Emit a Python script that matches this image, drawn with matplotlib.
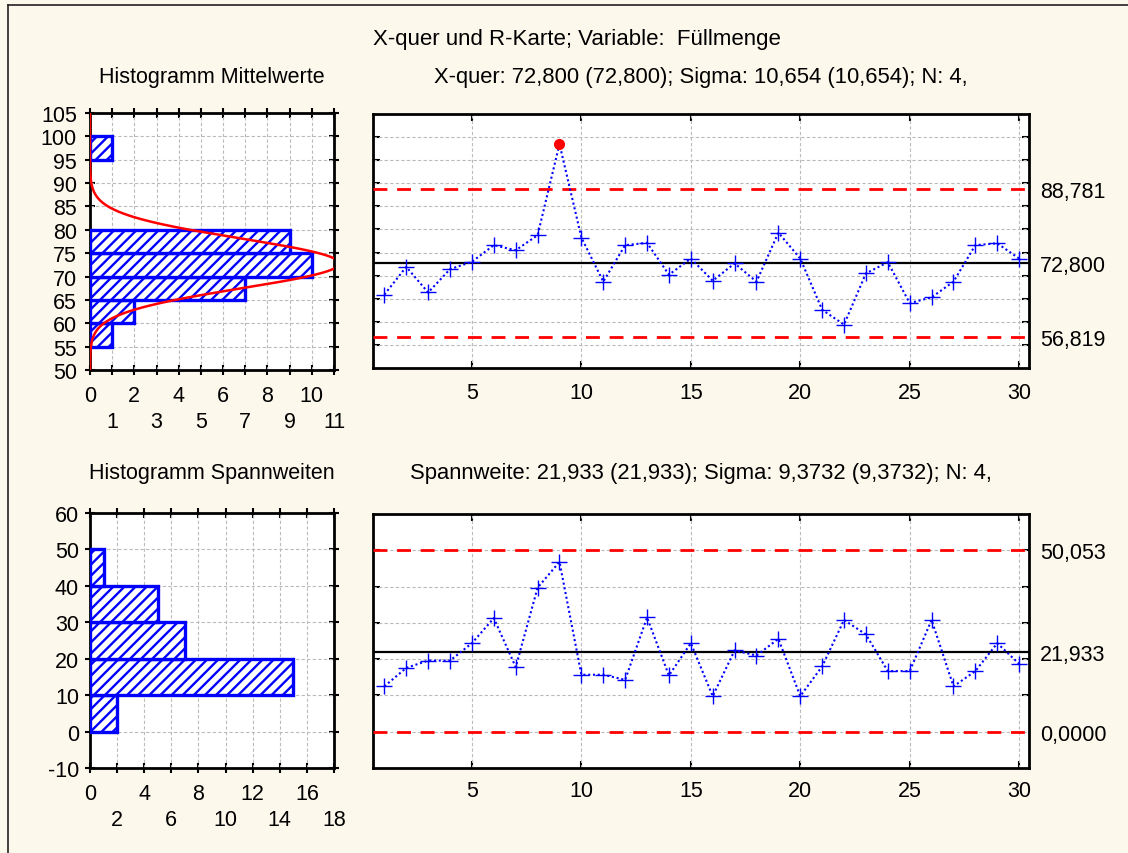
import numpy as np
import matplotlib
matplotlib.use('Agg')
import matplotlib.pyplot as plt
from matplotlib.lines import Line2D

plt.rcParams['font.family'] = ['Liberation Sans', 'DejaVu Sans']
plt.rcParams['hatch.linewidth'] = 1.7

# ---------------- data ----------------
samples = list(range(1, 31))
xbar = [65.9, 71.9, 66.35, 71.4, 73.0, 76.6, 75.5, 78.75, 98.5, 78.25,
        68.7, 76.6, 77.1, 70.2, 73.7, 68.9, 72.65, 68.7, 79.3, 73.7,
        62.6, 59.4, 70.5, 72.9, 64.05, 65.3, 68.7, 76.6, 77.0, 73.7]
ranges = [12.5, 17.6, 19.6, 19.6, 24.4, 31.3, 17.8, 39.7, 46.8, 15.7,
          15.7, 14.3, 31.5, 15.5, 24.4, 9.8, 22.4, 21.0, 25.6, 9.8,
          18.0, 30.8, 26.8, 16.7, 16.7, 30.8, 12.5, 16.7, 24.4, 18.7]
out_of_control = [9]

xbar_limits = [88.781, 72.800, 56.819]
xbar_limit_labels = ['88,781', '72,800', '56,819']
r_limits = [50.053, 21.933, 0.0]
r_limit_labels = ['50,053', '21,933', '0,0000']

hist_m_edges = [55, 60, 65, 70, 75, 95]
hist_m_counts = [1, 2, 7, 10, 9, 1]
hist_r_edges = [0, 10, 20, 30, 40]
hist_r_counts = [2, 15, 7, 5, 1]

sigma_x = 10.654
n_sub = 4
bin_w_m = 5
bin_w_r = 10

title = 'X-quer und R-Karte; Variable:  Füllmenge'
sub_hist_m = 'Histogramm Mittelwerte'
sub_xbar = 'X-quer: 72,800 (72,800); Sigma: 10,654 (10,654); N: 4,'
sub_hist_r = 'Histogramm Spannweiten'
sub_r = 'Spannweite: 21,933 (21,933); Sigma: 9,3732 (9,3732); N: 4,'

# ---------------- style ----------------
BG = '#FDF8EC'
BLUE = '#0000FF'
RED = '#FF0000'
FS = 15.5
W, H = 1128, 854

fig = plt.figure(figsize=(W / 100, H / 100), dpi=100, facecolor=BG)


def rect(l, t, r, b):
    return [l / W, 1 - b / H, (r - l) / W, (b - t) / H]


ax_hm = fig.add_axes(rect(90, 114, 334, 371))
ax_x = fig.add_axes(rect(373, 115, 1029, 369))
ax_hr = fig.add_axes(rect(90, 514, 334, 769))
ax_r = fig.add_axes(rect(373, 515, 1029, 769))

for ax in (ax_hm, ax_x, ax_hr, ax_r):
    ax.set_facecolor('white')
    for s in ax.spines.values():
        s.set_linewidth(2)
        s.set_color('black')
    ax.set_axisbelow(True)

grid_kw = dict(color='#BBBBBB', linestyle=(0, (3, 2)), linewidth=0.8)


def histogram(ax, edges, counts, bw, xmax, ylim, ystep, xstep_grid, major_x, minor_x, ypad):
    ax.barh(edges, counts, height=bw, left=0, align='edge', facecolor='white',
            edgecolor=BLUE, hatch='///', linewidth=2.4, zorder=3)
    ax.set_xlim(0, xmax)
    ax.set_ylim(*ylim)
    yt = np.arange(ylim[0], ylim[1] + 0.1, ystep)
    ax.set_yticks(yt)
    ax.set_yticklabels([f'{int(v)}' for v in yt])
    ax.set_xticks(major_x)
    ax.set_xticklabels([str(v) for v in major_x])
    ax.set_xticks(minor_x, minor=True)
    ax.set_xticklabels([str(v) for v in minor_x], minor=True)
    for v in np.arange(xstep_grid, xmax, xstep_grid):
        ax.axvline(v, zorder=1, **grid_kw)
    for v in np.arange(ylim[0] + ystep, ylim[1], ystep):
        ax.axhline(v, zorder=1, **grid_kw)
    ax.tick_params(axis='y', which='major', direction='inout', length=7, width=1.5,
                   labelsize=FS, pad=ypad, right=True)
    ax.tick_params(axis='x', which='major', direction='inout', length=7, width=1.5,
                   labelsize=FS, pad=7, top=True)
    ax.tick_params(axis='x', which='minor', direction='inout', length=7, width=1.5,
                   labelsize=FS, pad=26, top=True)


histogram(ax_hm, hist_m_edges, hist_m_counts, bin_w_m, 11, (50, 105), 5, 1,
          [0, 2, 4, 6, 8, 10], [1, 3, 5, 7, 9, 11], 6)
histogram(ax_hr, hist_r_edges, hist_r_counts, bin_w_r, 18, (-10, 60), 10, 2,
          [0, 4, 8, 12, 16], [2, 6, 10, 14, 18], 4.5)

# normal curve over mean histogram
mu = xbar_limits[1]
s_m = sigma_x / np.sqrt(n_sub)
yy = np.linspace(50, 105, 400)
curve = len(xbar) * bin_w_m / (s_m * np.sqrt(2 * np.pi)) * np.exp(-0.5 * ((yy - mu) / s_m) ** 2)
ax_hm.plot(curve, yy, color=RED, linewidth=1.8, zorder=4, clip_on=True)


def control(ax, values, limits, labels, ylim, ystep, ooc, xpad):
    x = np.array(samples)
    v = np.array(values)
    ax.set_xlim(0.48, 30.45)
    ax.set_ylim(*ylim)
    for k in (0, 2):
        ax.axhline(limits[k], color=RED, linestyle=(0, (5, 3.5)), linewidth=2, zorder=3)
    ax.axhline(limits[1], color='black', linewidth=1.6, zorder=3)
    ax.plot(x, v, color=BLUE, linestyle=(0, (1, 1.3)), linewidth=1.5, zorder=4)
    mask = np.isin(x, ooc)
    ax.plot(x[~mask], v[~mask], linestyle='none', marker='+', color=BLUE,
            markersize=11, markeredgewidth=1.0, zorder=5)
    if mask.any():
        ax.plot(x[mask], v[mask], linestyle='none', marker='o', color=RED,
                markersize=7, zorder=6)
    ax.set_xticks([5, 10, 15, 20, 25, 30])
    ax.set_xticklabels(['5', '10', '15', '20', '25', '30'])
    grid_y = np.arange(ylim[0] + ystep, ylim[1], ystep)
    ax.set_yticks(grid_y, minor=True)
    ax.set_yticks(limits)
    ax.set_yticklabels(labels)
    for g in [5, 10, 15, 20, 25, 30]:
        ax.axvline(g, zorder=1, **grid_kw)
    for g in grid_y:
        ax.axhline(g, zorder=1, **grid_kw)
    ax.tick_params(axis='x', direction='in', length=5, width=1.5, labelsize=FS,
                   pad=xpad, top=True)
    ax.tick_params(axis='y', which='minor', direction='in', length=5, width=1.5,
                   left=True, right=True)
    ax.tick_params(axis='y', which='major', direction='in', length=0,
                   labelleft=False, labelright=True, left=False, right=True,
                   labelsize=FS, pad=8)


control(ax_x, xbar, xbar_limits, xbar_limit_labels, (50, 105), 5, out_of_control, 10)
control(ax_r, ranges, r_limits, r_limit_labels, (-10, 60), 10, [], 8.5)

# texts
fig.text(577 / W, 1 - 40 / H, title, ha='center', va='center', fontsize=FS + 0.5)
fig.text(212 / W, 1 - 77 / H, sub_hist_m, ha='center', va='center', fontsize=FS)
fig.text(701 / W, 1 - 77 / H, sub_xbar, ha='center', va='center', fontsize=FS + 0.3)
fig.text(212 / W, 1 - 474 / H, sub_hist_r, ha='center', va='center', fontsize=FS)
fig.text(701 / W, 1 - 474 / H, sub_r, ha='center', va='center', fontsize=FS + 0.3)

# outer frame (left and top edges)
fig.add_artist(Line2D([8 / W, 8 / W], [0, 1 - 6 / H], transform=fig.transFigure,
                      color='#222222', linewidth=1.2))
fig.add_artist(Line2D([8 / W, 1], [1 - 6 / H, 1 - 6 / H], transform=fig.transFigure,
                      color='#222222', linewidth=1.2))

fig.savefig('out.png', dpi=100, facecolor=BG)
